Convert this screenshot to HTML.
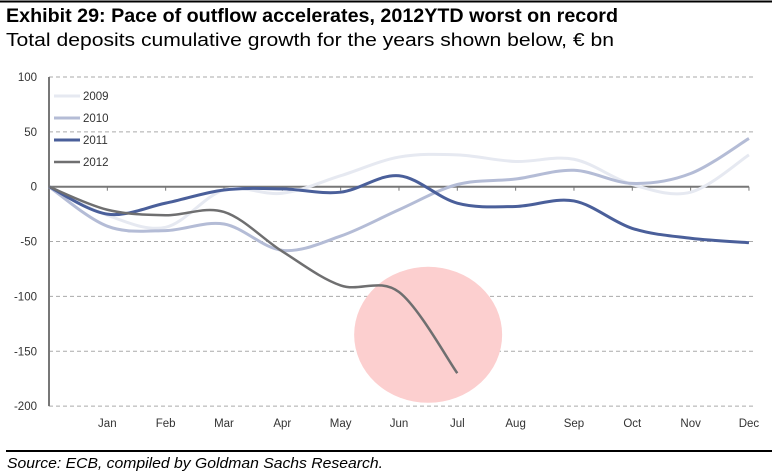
<!DOCTYPE html>
<html><head><meta charset="utf-8"><style>
body{margin:0;background:#fff;font-family:"Liberation Sans",sans-serif;}
svg{display:block}
</style></head><body>
<svg width="772" height="472">
<line x1="0" y1="1.5" x2="772" y2="1.5" stroke="#000" stroke-width="2"/>
<text x="6" y="22" font-size="19" font-weight="bold" fill="#000" textLength="612" lengthAdjust="spacingAndGlyphs">Exhibit 29: Pace of outflow accelerates, 2012YTD worst on record</text>
<text x="6" y="46" font-size="18" fill="#000" textLength="608" lengthAdjust="spacingAndGlyphs">Total deposits cumulative growth for the years shown below, € bn</text>
<g id="plot"></g>
<line x1="6" y1="451" x2="772" y2="451" stroke="#000" stroke-width="2"/>
<text x="7" y="468" font-size="15" font-style="italic" fill="#000" textLength="376" lengthAdjust="spacingAndGlyphs">Source: ECB, compiled by Goldman Sachs Research.</text>
</svg>
<script>
const months = ["Jan","Feb","Mar","Apr","May","Jun","Jul","Aug","Sep","Oct","Nov","Dec"];
const yTicks = [100,50,0,-50,-100,-150,-200];
const s2009 = [0,-26,-37,-3,-6,10,27,29,23,25,2,-5,29];
const s2010 = [0,-36,-40,-34,-58,-45,-21,2,7,15,3,12,44];
const s2011 = [0,-25,-15,-3,-2,-5,10,-15,-18,-13,-38,-47,-51];
const s2012 = [0,-21,-26,-23,-59,-90,-96,-170];
const seriesNames = ["2009","2010","2011","2012"];
const seriesColors = ["#e6e9f1","#b4bcd6","#4a5f9a","#6f6f70"];
const seriesWidths = [3,3,3,2.5];
const seriesData = [s2009,s2010,s2011,s2012];
const highlight = {cx:6.5, cy:-135, rx:74, ry:68};

const NS="http://www.w3.org/2000/svg";
const g=document.getElementById('plot');
const x0=49, step=58.33;
const X=i=>x0+i*step;
const Y=v=>186.7-v*1.097;
function mk(t,a){const e=document.createElementNS(NS,t);for(const k in a)e.setAttribute(k,a[k]);g.appendChild(e);return e;}

yTicks.forEach(v=>{
  if(v!==0){
    const l=mk('line',{x1:x0,y1:Y(v),x2:755,y2:Y(v),stroke:'#aaa','stroke-width':1,'stroke-dasharray':'4,3'});
    
    
  }
  const t=mk('text',{x:37,y:Y(v)+4,'font-size':11.5,fill:'#333','text-anchor':'end'});
  t.textContent=v;
  
  
});
const ya=mk('line',{x1:x0,y1:Y(100),x2:x0,y2:Y(-200),stroke:'#777','stroke-width':2});



const c=mk('ellipse',{cx:X(highlight.cx),cy:Y(highlight.cy),rx:highlight.rx,ry:highlight.ry,fill:'#fccfcf'});



const xa=mk('line',{x1:x0,y1:Y(0),x2:X(12),y2:Y(0),stroke:'#777','stroke-width':2});


months.forEach((m,i)=>{
  const tk=mk('line',{x1:X(i+1),y1:Y(0),x2:X(i+1),y2:Y(0)+4,stroke:'#777','stroke-width':1});
  
  
  const t=mk('text',{x:X(i+1),y:427,'font-size':11.5,fill:'#333','text-anchor':'middle'});
  t.textContent=m;
  
  
});

function smooth(pts){
  let d=`M${pts[0][0]},${pts[0][1]}`;
  for(let i=0;i<pts.length-1;i++){
    const p0=pts[Math.max(i-1,0)],p1=pts[i],p2=pts[i+1],p3=pts[Math.min(i+2,pts.length-1)];
    const c1=[p1[0]+(p2[0]-p0[0])/6,p1[1]+(p2[1]-p0[1])/6];
    const c2=[p2[0]-(p3[0]-p1[0])/6,p2[1]-(p3[1]-p1[1])/6];
    d+=` C${c1[0]},${c1[1]} ${c2[0]},${c2[1]} ${p2[0]},${p2[1]}`;
  }
  return d;
}
seriesData.forEach((s,k)=>{
  const p=mk('path',{d:smooth(s.map((v,i)=>[X(i),Y(v)])),fill:'none',stroke:seriesColors[k],'stroke-width':seriesWidths[k],'stroke-linejoin':'round'});
  
  
});
seriesNames.forEach((n,k)=>{
  const y=96+k*22;
  const l=mk('line',{x1:54,y1:y,x2:80,y2:y,stroke:seriesColors[k],'stroke-width':seriesWidths[k]});
  
  
  const t=mk('text',{x:83,y:y+4,'font-size':11.5,fill:'#333'});
  t.textContent=n;
  
  
});
</script>
</body></html>
